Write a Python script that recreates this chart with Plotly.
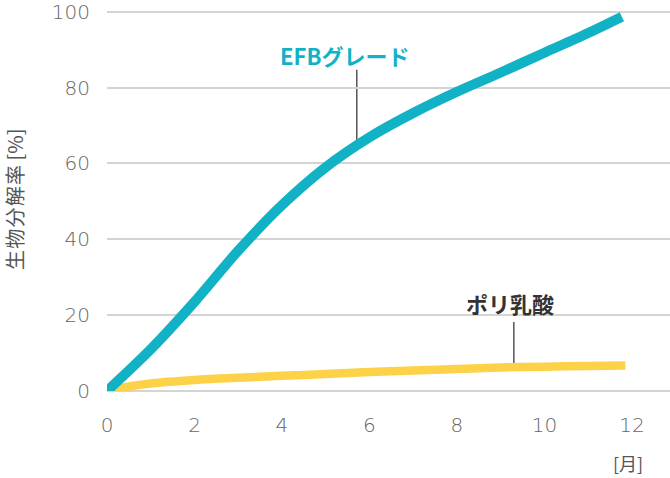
import plotly.graph_objects as go

# Data (months vs biodegradation %)
efb_x = [0, 1, 2, 3, 4, 5, 6, 7, 8, 9, 10, 11, 11.77]
efb_y = [0, 11, 23.5, 37, 49, 59, 66.9, 73.3, 78.9, 84.0, 89.2, 94.4, 98.7]

pla_x = [0, 0.5, 1, 2, 3, 4, 5, 6, 7, 8, 9, 10, 11, 11.85]
pla_y = [0, 1.2, 2.0, 2.9, 3.5, 4.0, 4.5, 5.0, 5.4, 5.8, 6.2, 6.4, 6.6, 6.7]

x_ticks = [0, 2, 4, 6, 8, 10, 12]
y_ticks = [0, 20, 40, 60, 80, 100]

BLUE = "#12b2c6"
YELLOW = "#fdd249"
FONT = "Noto Sans CJK JP"
TICKFONT = "DejaVu Sans"

fig = go.Figure()
fig.add_trace(go.Scatter(x=pla_x, y=pla_y, mode="lines",
                         line=dict(color=YELLOW, width=8.5, shape="spline", smoothing=0.9),
                         cliponaxis=False, hoverinfo="skip"))
fig.add_trace(go.Scatter(x=efb_x, y=efb_y, mode="lines",
                         line=dict(color=BLUE, width=10, shape="spline", smoothing=0.9),
                         cliponaxis=False, hoverinfo="skip"))

# leader lines
fig.add_shape(type="line", x0=5.71, x1=5.71, y0=84.7, y1=66.0,
              line=dict(color="#555555", width=1.5), layer="below")
fig.add_shape(type="line", x0=9.3, x1=9.3, y0=18.2, y1=6.6,
              line=dict(color="#555555", width=1.5), layer="below")

fig.add_annotation(x=5.44, y=88.7, text="<b>EFBグレード</b>", showarrow=False,
                   font=dict(family=FONT, size=22, color=BLUE))
fig.add_annotation(x=9.21, y=23.2, text="<b>ポリ乳酸</b>", showarrow=False,
                   font=dict(family=FONT, size=22, color="#333333"))
fig.add_annotation(x=0, xref="paper", xshift=-92, y=0.4987, yref="paper",
                   xanchor="center", yanchor="middle", borderpad=0,
                   text="生\u200a物\u200a分\u200a解\u200a率 [%]", textangle=-90, showarrow=False,
                   font=dict(family=FONT, size=20, color="#555555"))
fig.add_annotation(x=11.9, y=-0.187, yref="paper", xanchor="center", yanchor="middle",
                   text="[月]", showarrow=False,
                   font=dict(family=FONT, size=18, color="#555555"))

fig.update_layout(
    width=670, height=478,
    margin=dict(l=107, r=0, t=8, b=87, autoexpand=False),
    plot_bgcolor="white", paper_bgcolor="white",
    showlegend=False,
    font=dict(family=FONT, color="#666666"),
)
fig.update_xaxes(range=[0, 12.87], tickvals=x_ticks, showgrid=False, zeroline=False,
                 showline=False, ticks="", ticklabelstandoff=20, automargin=False,
                 tickfont=dict(family=TICKFONT, size=20, color="#666666", weight=300))
fig.update_yaxes(range=[0, 101], tickvals=y_ticks, showgrid=True, gridcolor="#d4d4d4",
                 gridwidth=1.5, zeroline=True, zerolinecolor="#d4d4d4", zerolinewidth=1.5,
                 showline=False, ticks="", ticklabelstandoff=16, automargin=False,
                 ticklabeloverflow="allow",
                 tickfont=dict(family=TICKFONT, size=20, color="#666666", weight=300))

fig.write_html("out.html", config={"displayModeBar": False},
               post_script="document.body.style.margin='0';document.body.style.overflow='hidden';")
